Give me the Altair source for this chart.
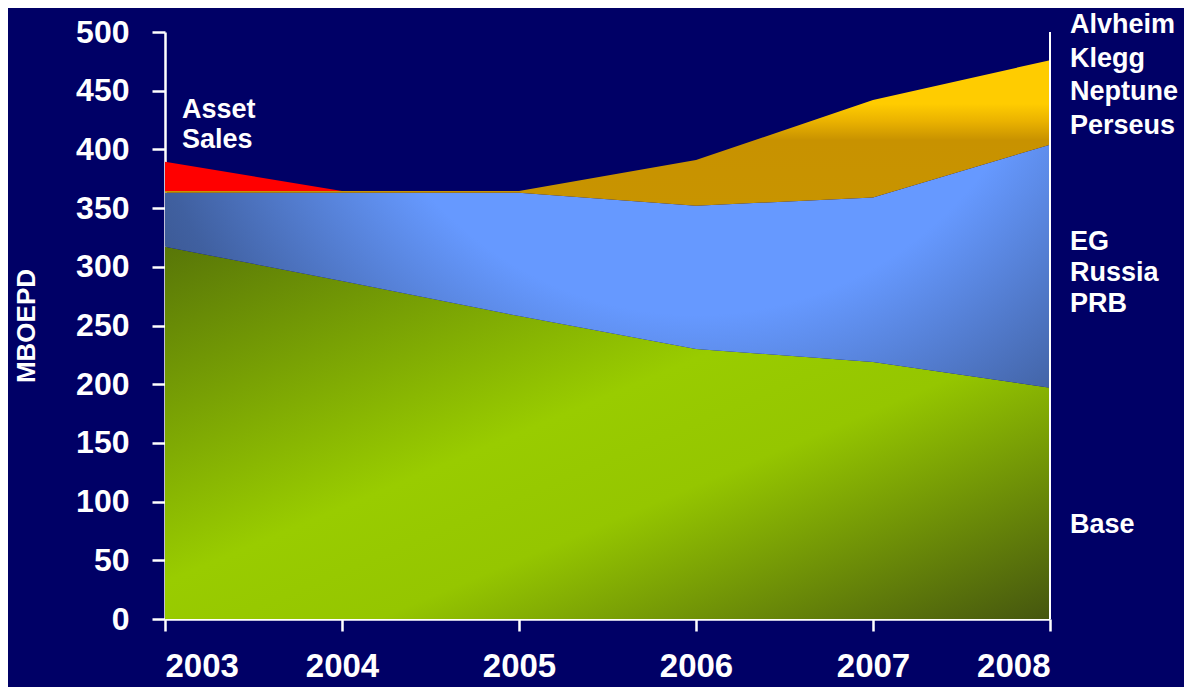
import altair as alt
import numpy as np
import pandas as pd

# ---- data (MBOEPD) ----
years = [2003, 2004, 2005, 2006, 2007, 2008]
base = [317, 288, 258, 230, 219, 197]
eg_russia_prb = [46, 75, 105, 122, 140, 207]
alvheim_klegg_neptune_perseus = [1.5, 1.5, 1.5, 39, 83, 72]
asset_sales = [25, 0, 0, 0, 0, 0]

label_base = "Base"
label_eg = "EG\nRussia\nPRB"
label_alv = "Alvheim\nKlegg\nNeptune\nPerseus"
label_asset = "Asset\nSales"
y_title = "MBOEPD"

# ---- stacked table ----
series = [base, eg_russia_prb, alvheim_klegg_neptune_perseus, asset_sales]
tops = np.cumsum(np.array(series, dtype=float), axis=0)
bottoms = np.vstack([np.zeros(len(years)), tops[:-1]])
names = ["base", "eg", "alv", "asset"]
rows = []
for i, n in enumerate(names):
    for j, yr in enumerate(years):
        rows.append({"series": n, "year": yr, "lo": bottoms[i, j], "hi": tops[i, j]})
df = pd.DataFrame(rows)

FONT = "Liberation Sans"
BG = "#000066"
W, H = 885, 587

xs = alt.Scale(domain=[2003, 2008], nice=False, zero=False)
ys = alt.Scale(domain=[0, 500], nice=False)

green = alt.Gradient(
    gradient="linear", x1=0, y1=0, x2=1, y2=1,
    stops=[
        alt.GradientStop(color="#587608", offset=0),
        alt.GradientStop(color="#99cc00", offset=0.45),
        alt.GradientStop(color="#95c600", offset=0.62),
        alt.GradientStop(color="#45560f", offset=1),
    ],
)
blue = alt.Gradient(
    gradient="radial", x1=0.6, y1=0.15, r1=0, x2=0.6, y2=0.15, r2=0.9,
    stops=[
        alt.GradientStop(color="#6699ff", offset=0),
        alt.GradientStop(color="#6699ff", offset=0.45),
        alt.GradientStop(color="#4060a0", offset=0.72),
        alt.GradientStop(color="#2c3d66", offset=1),
    ],
)
yellow = alt.Gradient(
    gradient="linear", x1=0, y1=0, x2=0, y2=1,
    stops=[
        alt.GradientStop(color="#ffcc00", offset=0),
        alt.GradientStop(color="#ffcc00", offset=0.3),
        alt.GradientStop(color="#eab200", offset=0.42),
        alt.GradientStop(color="#c89200", offset=0.55),
        alt.GradientStop(color="#c89400", offset=1),
    ],
)
fills = {"base": green, "eg": blue, "alv": yellow, "asset": "#ff0000"}

x_axis = alt.Axis(
    values=years, format="d", title=None, grid=False,
    labelFontSize=33, labelPadding=19, tickSize=12,
)
y_axis = alt.Axis(
    values=list(range(0, 501, 50)), title=y_title, grid=False,
    labelFontSize=32, labelPadding=23, tickSize=13,
    titleFontSize=26, titlePadding=36, titleFont=FONT,
    titleColor="white", titleFontWeight="bold",
)


def area(name, first=False):
    if first:
        xe = alt.X("year:Q", scale=xs, axis=x_axis)
        ye = alt.Y("lo:Q", scale=ys, axis=y_axis)
    else:
        xe = alt.X("year:Q")
        ye = alt.Y("lo:Q")
    return alt.Chart(df[df.series == name]).mark_area(
        color=fills[name], interpolate="linear", opacity=1
    ).encode(x=xe, y=ye, y2="hi:Q")


layers = [area("base", True), area("eg"), area("alv"), area("asset")]

right_line = alt.Chart(pd.DataFrame({"a": [0]})).mark_rule(
    color="white", strokeWidth=2
).encode(x=alt.datum(2008), y=alt.datum(0), y2=alt.datum(500))


def note(text, xval, yval, dx, lh):
    return alt.Chart(pd.DataFrame({"a": [0]})).mark_text(
        align="left", baseline="alphabetic", dx=dx, lineBreak="\n",
        lineHeight=lh, font=FONT, fontWeight="bold", fontSize=27,
        color="white",
    ).encode(x=alt.datum(xval), y=alt.datum(yval), text=alt.value(text))


notes = [
    note(label_alv, 2008, 499, 20, 33.5),
    note(label_eg, 2008, 314, 20, 31),
    note(label_base, 2008, 73, 20, 31),
    note(label_asset, 2003, 427, 17, 30),
]

chart = alt.layer(*layers, right_line, *notes).properties(
    width=W, height=H,
    padding={"left": 157, "top": 24, "right": 134, "bottom": 68},
    autosize=alt.AutoSizeParams(type="none"),
    background=BG,
).configure_view(stroke=None).configure_axis(
    domainColor="white", domainWidth=2.5, tickColor="white", tickWidth=2.5,
    labelColor="white", labelFont=FONT, labelFontWeight="bold",
)

chart.save("out.html", embed_options={"renderer": "svg", "actions": False})
